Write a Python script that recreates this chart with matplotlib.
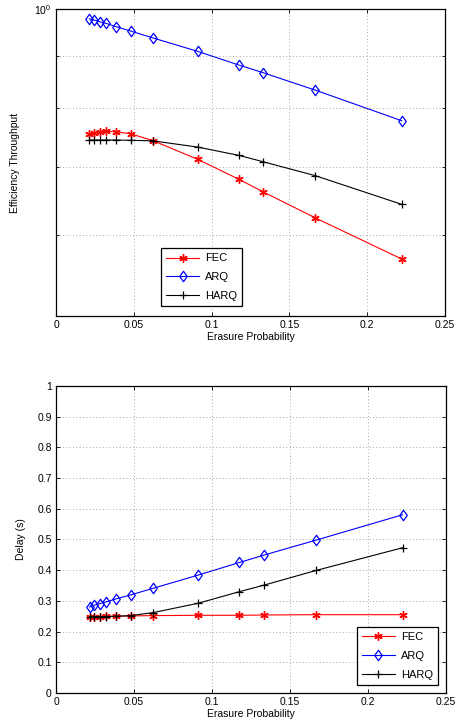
import matplotlib
matplotlib.use('Agg')
import matplotlib.pyplot as plt
from matplotlib.ticker import FixedLocator, NullFormatter, FixedFormatter
from matplotlib.path import Path

# Data
erasure = [0.0215, 0.0245, 0.028, 0.0323, 0.0385, 0.048, 0.0625, 0.091, 0.1176, 0.1332, 0.1667, 0.2222]

# Efficiency throughput (log scale)
effFEC = [0.754, 0.756, 0.758, 0.7586, 0.758, 0.7545, 0.7427, 0.7123, 0.6808, 0.6617, 0.624, 0.5687]
effARQ = [0.978, 0.9754, 0.9718, 0.968, 0.961, 0.9515, 0.9366, 0.9089, 0.8811, 0.866, 0.8326, 0.7771]
effHARQ = [0.744, 0.744, 0.744, 0.744, 0.744, 0.7435, 0.7425, 0.7322, 0.7186, 0.7083, 0.6864, 0.6434]

# Delay (s)
delFEC = [0.249, 0.249, 0.249, 0.250, 0.250, 0.251, 0.252, 0.253, 0.253, 0.254, 0.255, 0.255]
delARQ = [0.280, 0.286, 0.291, 0.297, 0.3065, 0.3196, 0.3413, 0.3837, 0.425, 0.4489, 0.4978, 0.5804]
delHARQ = [0.249, 0.249, 0.249, 0.249, 0.250, 0.252, 0.262, 0.292, 0.330, 0.351, 0.399, 0.473]

labels = ['FEC', 'ARQ', 'HARQ']
xticks = [0, 0.05, 0.1, 0.15, 0.2, 0.25]
xticklabels = ['0', '0.05', '0.1', '0.15', '0.2', '0.25']

plt.rcParams['font.family'] = ['Liberation Sans', 'DejaVu Sans']
plt.rcParams['font.size'] = 7.5
plt.rcParams['mathtext.fontset'] = 'custom'
plt.rcParams['mathtext.rm'] = 'Liberation Sans'

# matlab-ish diamond, a bit taller than wide
diamond = Path([(0, 1), (0.72, 0), (0, -1), (-0.72, 0), (0, 1)],
               [Path.MOVETO, Path.LINETO, Path.LINETO, Path.LINETO, Path.CLOSEPOLY])

def styleAxes(ax):
    ax.set_xlim(0, 0.25)
    ax.set_xticks(xticks)
    ax.set_xticklabels(xticklabels)
    ax.tick_params(direction='in', which='both', top=True, right=True, length=3, width=0.6, pad=3)
    ax.tick_params(which='minor', length=2)
    ax.grid(True, which='both', linestyle=(0, (1, 3)), color='0.55', linewidth=0.6)
    for s in ax.spines.values():
        s.set_linewidth(0.9)
    ax.set_xlabel('Erasure Probability', labelpad=1)

def drawSeries(ax, fec, arq, harq):
    ax.plot(erasure, fec, color='red', marker=(6, 2, 0), markersize=6, markeredgewidth=1.0,
            linewidth=0.8, label=labels[0])
    ax.plot(erasure, arq, color='blue', marker=diamond, markersize=7.5, markerfacecolor='none',
            markeredgewidth=0.9, linewidth=0.8, label=labels[1])
    ax.plot(erasure, harq, color='black', marker='+', markersize=6, markeredgewidth=0.9,
            linewidth=0.8, label=labels[2])

def addLegend(ax, loc, anchor):
    leg = ax.legend(loc=loc, bbox_to_anchor=anchor, fancybox=False, edgecolor='black',
                    framealpha=1, fontsize=8, handlelength=3.0, handletextpad=0.5,
                    borderpad=0.45, labelspacing=0.8, borderaxespad=0)
    leg.get_frame().set_linewidth(0.9)
    return leg

fig = plt.figure(figsize=(4.63, 7.27), dpi=100)

# Top: efficiency
ax1 = fig.add_axes([0.121, 0.5653, 0.840, 0.4223])
drawSeries(ax1, effFEC, effARQ, effHARQ)
ax1.set_yscale('log')
ax1.set_ylim(0.5, 1.0)
ax1.yaxis.set_major_locator(FixedLocator([1.0]))
ax1.yaxis.set_major_formatter(FixedFormatter([r'$10^0$']))
ax1.yaxis.set_minor_locator(FixedLocator([0.6, 0.7, 0.8, 0.9]))
ax1.yaxis.set_minor_formatter(NullFormatter())
styleAxes(ax1)
ax1.set_ylabel('Efficiency Throughput')
ax1.yaxis.set_label_coords(-0.093, 0.5)
addLegend(ax1, 'upper left', (0.27, 0.22))

# Bottom: delay
ax2 = fig.add_axes([0.121, 0.0468, 0.842, 0.4223])
drawSeries(ax2, delFEC, delARQ, delHARQ)
ax2.set_ylim(0, 1)
ax2.set_yticks([i / 10 for i in range(11)])
ax2.set_yticklabels(['0', '0.1', '0.2', '0.3', '0.4', '0.5', '0.6', '0.7', '0.8', '0.9', '1'])
styleAxes(ax2)
ax2.set_ylabel('Delay (s)')
ax2.yaxis.set_label_coords(-0.077, 0.5)
addLegend(ax2, 'lower right', (0.979, 0.026))

fig.savefig('out.png', dpi=100)
